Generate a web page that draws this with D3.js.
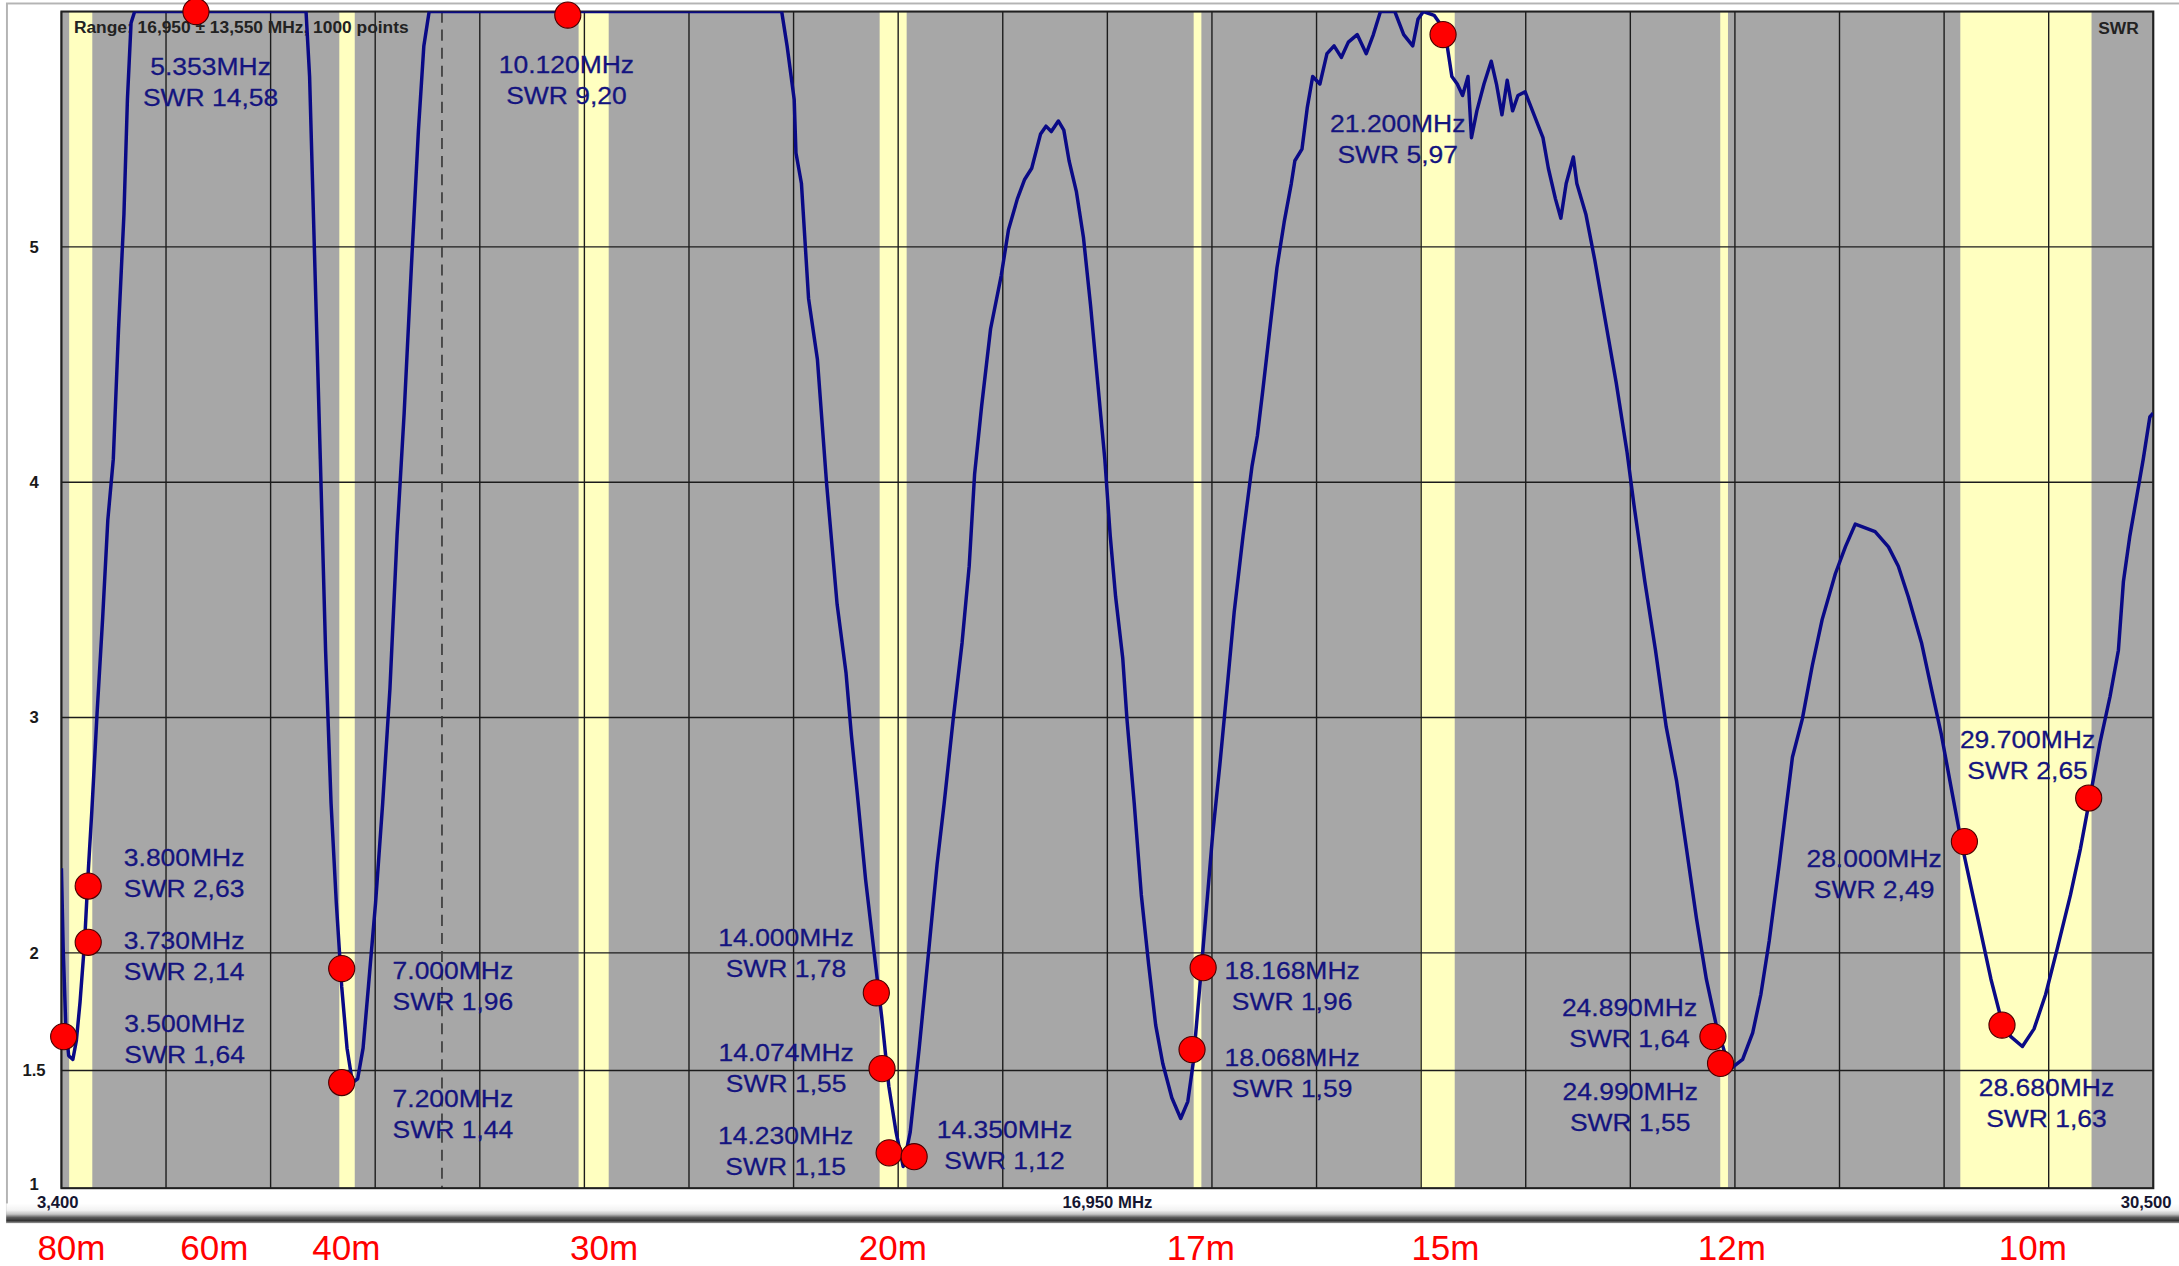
<!DOCTYPE html>
<html>
<head>
<meta charset="utf-8">
<script src="https://cdn.jsdelivr.net/npm/d3@7"></script>
<style>
  body { margin: 0; background: #ffffff; }
  svg { display: block; }
</style>
</head>
<body>
<div id="svganchor"></div>
<script>
/*
------------------------------
DATA: SWR sweep 3,400 - 30,500 MHz
------------------------------
*/
// [MHz, SWR] pairs, SWR above 6 is off the top of the screen
let swrTrace = [
  [3.400, 2.359], [3.423, 2.018], [3.456, 1.693], [3.494, 1.563], [3.548, 1.547], [3.594, 1.628],
  [3.641, 1.790], [3.701, 2.050], [3.747, 2.343], [3.794, 2.603], [3.863, 3.025], [3.933, 3.416],
  [4.001, 3.839], [4.072, 4.098], [4.140, 4.651], [4.210, 5.139], [4.255, 5.626], [4.302, 5.951],
  [4.349, 6.0], [6.569, 6.0],
  [6.615, 5.724], [6.684, 4.911], [6.754, 4.098], [6.822, 3.286], [6.893, 2.636], [6.961, 2.213],
  [7.031, 1.856], [7.100, 1.595], [7.170, 1.449], [7.238, 1.465], [7.308, 1.595], [7.377, 1.856],
  [7.470, 2.213], [7.562, 2.636], [7.656, 3.123], [7.748, 3.773], [7.840, 4.293], [7.933, 4.911],
  [8.025, 5.496], [8.095, 5.854], [8.164, 6.0], [12.731, 6.0],
  [12.801, 5.854], [12.893, 5.626], [12.916, 5.399], [12.987, 5.269], [13.079, 4.781], [13.194, 4.521],
  [13.311, 4.001], [13.449, 3.481], [13.565, 3.188], [13.633, 2.928], [13.703, 2.701], [13.818, 2.311],
  [13.934, 1.986], [14.027, 1.726], [14.119, 1.433], [14.213, 1.238], [14.305, 1.092], [14.396, 1.238],
  [14.513, 1.596], [14.629, 1.986], [14.744, 2.376], [14.836, 2.636], [14.953, 2.993], [15.068, 3.318],
  [15.160, 3.643], [15.230, 4.033], [15.322, 4.326], [15.437, 4.651], [15.575, 4.878], [15.669, 5.073],
  [15.784, 5.204], [15.876, 5.285], [15.970, 5.334], [16.085, 5.480], [16.155, 5.513], [16.224, 5.490],
  [16.315, 5.535], [16.386, 5.496], [16.454, 5.366], [16.548, 5.236], [16.640, 5.041], [16.733, 4.749],
  [16.825, 4.423], [16.917, 4.098], [16.987, 3.773], [17.057, 3.513], [17.149, 3.253], [17.204, 2.993],
  [17.298, 2.636], [17.390, 2.246], [17.484, 1.953], [17.576, 1.693], [17.668, 1.530], [17.785, 1.384],
  [17.900, 1.296], [17.992, 1.368], [18.061, 1.530], [18.130, 1.790], [18.223, 2.148], [18.315, 2.506],
  [18.407, 2.798], [18.501, 3.123], [18.593, 3.448], [18.708, 3.773], [18.823, 4.066], [18.893, 4.196],
  [18.964, 4.391], [19.055, 4.651], [19.147, 4.911], [19.241, 5.106], [19.333, 5.269], [19.379, 5.366],
  [19.471, 5.415], [19.541, 5.594], [19.610, 5.724], [19.703, 5.692], [19.795, 5.821], [19.887, 5.854],
  [19.981, 5.805], [20.072, 5.870], [20.187, 5.902], [20.304, 5.821], [20.396, 5.902], [20.488, 6.0],
  [20.674, 6.0], [20.789, 5.902], [20.906, 5.854], [20.974, 5.967], [21.044, 6.0], [21.183, 5.984],
  [21.322, 5.919], [21.413, 5.724], [21.483, 5.692], [21.552, 5.643], [21.622, 5.724], [21.667, 5.464],
  [21.737, 5.578], [21.829, 5.692], [21.923, 5.789], [21.991, 5.692], [22.062, 5.561], [22.130, 5.708],
  [22.200, 5.578], [22.269, 5.643], [22.362, 5.659], [22.478, 5.561], [22.593, 5.464], [22.663, 5.334],
  [22.755, 5.204], [22.825, 5.122], [22.894, 5.269], [22.987, 5.382], [23.032, 5.269], [23.149, 5.139],
  [23.265, 4.943], [23.403, 4.684], [23.542, 4.423], [23.681, 4.131], [23.772, 3.904], [23.913, 3.578],
  [24.051, 3.286], [24.190, 2.960], [24.323, 2.733], [24.453, 2.441], [24.581, 2.148], [24.710, 1.888],
  [24.838, 1.693], [24.946, 1.579], [25.052, 1.514], [25.180, 1.547], [25.310, 1.660], [25.416, 1.823],
  [25.524, 2.050], [25.654, 2.376], [25.738, 2.603], [25.825, 2.831], [25.953, 2.993], [26.082, 3.220],
  [26.210, 3.416], [26.381, 3.611], [26.511, 3.725], [26.639, 3.822], [26.768, 3.806], [26.896, 3.790],
  [27.069, 3.725], [27.197, 3.643], [27.326, 3.513], [27.497, 3.318], [27.625, 3.123], [27.754, 2.928],
  [27.882, 2.701], [28.012, 2.473], [28.140, 2.278], [28.269, 2.083], [28.397, 1.888], [28.525, 1.725],
  [28.654, 1.644], [28.804, 1.602], [28.955, 1.677], [29.105, 1.823], [29.256, 2.018], [29.427, 2.246],
  [29.555, 2.441], [29.684, 2.668], [29.812, 2.896], [29.940, 3.090], [30.048, 3.286], [30.113, 3.578],
  [30.197, 3.773], [30.284, 3.936], [30.370, 4.098], [30.455, 4.277], [30.498, 4.293]
];

// markers: text as written on the screen and where the dot sits
let markerFreqText = ["3.500MHz", "3.730MHz", "3.800MHz", "5.353MHz", "7.000MHz", "7.200MHz", "10.120MHz",
  "14.000MHz", "14.074MHz", "14.230MHz", "14.350MHz", "18.068MHz", "18.168MHz", "21.200MHz",
  "24.890MHz", "24.990MHz", "28.000MHz", "28.680MHz", "29.700MHz"];
let markerSwrText = ["SWR 1,64", "SWR 2,14", "SWR 2,63", "SWR 14,58", "SWR 1,96", "SWR 1,44", "SWR 9,20",
  "SWR 1,78", "SWR 1,55", "SWR 1,15", "SWR 1,12", "SWR 1,59", "SWR 1,96", "SWR 5,97",
  "SWR 1,64", "SWR 1,55", "SWR 2,49", "SWR 1,63", "SWR 2,65"];
let dotMHz = [3.429, 3.747, 3.747, 5.143, 7.031, 7.031, 9.960, 13.957, 14.031, 14.123, 14.447,
  18.047, 18.191, 21.299, 24.795, 24.894, 28.053, 28.540, 29.663];
let dotSwr = [1.644, 2.045, 2.284, 6.0, 1.933, 1.449, 5.985, 1.830, 1.508, 1.150, 1.134,
  1.589, 1.937, 5.902, 1.644, 1.530, 2.473, 1.693, 2.658];

// ham bands shown in yellow
let hamBandStart = [3.5, 7.0, 10.1, 14.0, 18.068, 21.0, 24.89, 28.0];
let hamBandEnd = [3.8, 7.2, 10.49, 14.35, 18.168, 21.45, 24.99, 29.7];

// band names under the chart
let bandNames = ["80m", "60m", "40m", "30m", "20m", "17m", "15m", "12m", "10m"];
let bandLabelMHz = [3.53, 5.38, 7.09, 10.43, 14.17, 18.16, 21.33, 25.04, 28.94];

// axes
let yTicks = [1, 1.5, 2, 3, 4, 5];
let yTickLabels = ["1", "1.5", "2", "3", "4", "5"];
let xTickMHz = [3.4, 16.95, 30.5];
let xTickLabels = ["3,400", "16,950 MHz", "30,500"];
let cursorMHz = 8.33;

/*
------------------------------
METHOD: canvas and layout
------------------------------
*/
let width = 1568;
let height = 911;
let plot = ({left: 44.2, right: 1549.5, top: 8.3, bottom: 855});
let navy = "#14147f";
let font = "'Liberation Sans', Arial, sans-serif";

// label placement relative to its dot: [dx to text centre, dy to first baseline]
let labelOffset = [[87, -3], [69, 4.6], [69, -14.5], [10.5, 46], [80, 7.6], [80, 17.6], [-1, 41.5],
  [-65, -33.6], [-69, -5.5], [-74.5, -6.6], [65, -13.7], [72, 11.5], [64, 8.2], [-32.6, 70],
  [-60, -15], [-65, 26], [-65, 18], [32, 51], [-44, -36]];

let svg = d3.select("#svganchor")
    .append("svg")
    .attr("width", 2179)
    .attr("height", 1266)
    .attr("viewBox", "0 0 " + width + " " + height);

let defs = svg.append("defs");

defs.append("clipPath")
    .attr("id", "plotclip")
    .append("rect")
    .attr("x", plot.left)
    .attr("y", plot.top)
    .attr("width", plot.right - plot.left)
    .attr("height", plot.bottom - plot.top);

let grad = defs.append("linearGradient")
    .attr("id", "barshade")
    .attr("x1", 0).attr("y1", 0).attr("x2", 0).attr("y2", 1);
[["0%", "#ffffff"], ["35%", "#f2f2f2"], ["55%", "#c4c4c4"], ["72%", "#5c5c5c"],
 ["88%", "#333333"], ["100%", "#8a8a8a"]].forEach(function(s) {
    grad.append("stop").attr("offset", s[0]).attr("stop-color", s[1]);
});

let xScale = d3.scaleLinear()
    .domain([3.4, 30.5])
    .range([plot.left, plot.right]);

let yScale = d3.scaleLinear()
    .domain([1, 6])
    .range([plot.bottom, plot.top]);

/*
------------------------------
METHOD: screen frame
------------------------------
*/
svg.append("rect")
    .attr("x", 5).attr("y", 2.5)
    .attr("width", width - 4).attr("height", 877)
    .attr("fill", "#ffffff")
    .attr("stroke", "#b4b4b4")
    .attr("stroke-width", 1.4);

svg.append("rect")
    .attr("x", 4.5).attr("y", 866)
    .attr("width", width - 4.5).attr("height", 14)
    .attr("fill", "url(#barshade)");

/*
------------------------------
METHOD: plot background, bands and grid
------------------------------
*/
svg.append("rect")
    .attr("x", plot.left).attr("y", plot.top)
    .attr("width", plot.right - plot.left)
    .attr("height", plot.bottom - plot.top)
    .attr("fill", "#a7a7a7");

svg.append("g").selectAll("rect")
    .data(hamBandStart)
    .enter().append("rect")
    .attr("x", function(d) { return xScale(d); })
    .attr("y", plot.top)
    .attr("width", function(d, i) { return xScale(hamBandEnd[i]) - xScale(d); })
    .attr("height", plot.bottom - plot.top)
    .attr("fill", "#ffffc0");

// 20 divisions across the span
let xGrid = d3.range(21).map(function(i) { return 3.4 + i * (30.5 - 3.4) / 20; });

svg.append("g").selectAll("line")
    .data(xGrid)
    .enter().append("line")
    .attr("x1", function(d) { return xScale(d); })
    .attr("x2", function(d) { return xScale(d); })
    .attr("y1", plot.top)
    .attr("y2", plot.bottom)
    .attr("stroke", "#1c1c1c")
    .attr("stroke-width", 1);

svg.append("g").selectAll("line")
    .data(yTicks.filter(function(d) { return d > 1; }))
    .enter().append("line")
    .attr("x1", plot.left)
    .attr("x2", plot.right)
    .attr("y1", function(d) { return yScale(d); })
    .attr("y2", function(d) { return yScale(d); })
    .attr("stroke", "#1c1c1c")
    .attr("stroke-width", 1);

svg.append("line")
    .attr("x1", xScale(cursorMHz)).attr("x2", xScale(cursorMHz))
    .attr("y1", plot.top).attr("y2", plot.bottom)
    .attr("stroke", "#3a3a3a")
    .attr("stroke-width", 1.2)
    .attr("stroke-dasharray", "8,5");

svg.append("rect")
    .attr("x", plot.left).attr("y", plot.top)
    .attr("width", plot.right - plot.left)
    .attr("height", plot.bottom - plot.top)
    .attr("fill", "none")
    .attr("stroke", "#202020")
    .attr("stroke-width", 1.5);

/*
------------------------------
METHOD: axis texts
------------------------------
*/
svg.append("g").selectAll("text")
    .data(yTicks)
    .enter().append("text")
    .attr("x", 24.5)
    .attr("y", function(d) { return Math.min(yScale(d), plot.bottom - 3); })
    .attr("dy", "0.35em")
    .attr("text-anchor", "middle")
    .attr("font-family", font)
    .attr("font-weight", "bold")
    .attr("font-size", 12)
    .attr("fill", "#1a1a1a")
    .text(function(d, i) { return yTickLabels[i]; });

svg.append("g").selectAll("text")
    .data(xTickMHz)
    .enter().append("text")
    .attr("x", function(d, i) {
        if (i === 0) return xScale(d) - 17.6;
        if (i === xTickMHz.length - 1) return xScale(d) + 13.2;
        return xScale(d);
    })
    .attr("y", 869)
    .attr("text-anchor", function(d, i) {
        return i === 0 ? "start" : (i === xTickMHz.length - 1 ? "end" : "middle");
    })
    .attr("font-family", font)
    .attr("font-weight", "bold")
    .attr("font-size", 12)
    .attr("fill", "#151530")
    .text(function(d, i) { return xTickLabels[i]; });

svg.append("text")
    .attr("x", plot.left + 9)
    .attr("y", 24)
    .attr("font-family", font)
    .attr("font-weight", "bold")
    .attr("font-size", 12.5)
    .attr("fill", "#222222")
    .text("Range: 16,950 \u00b1 13,550 MHz, 1000 points");

svg.append("text")
    .attr("x", plot.right - 10.5)
    .attr("y", 24.5)
    .attr("text-anchor", "end")
    .attr("font-family", font)
    .attr("font-weight", "bold")
    .attr("font-size", 12.5)
    .attr("fill", "#222222")
    .text("SWR");

/*
------------------------------
METHOD: the SWR trace
------------------------------
*/
let line = d3.line()
    .x(function(d) { return xScale(d[0]); })
    .y(function(d) { return yScale(Math.min(d[1], 6)); });

svg.append("path")
    .datum(swrTrace)
    .attr("clip-path", "url(#plotclip)")
    .attr("d", line)
    .attr("fill", "none")
    .attr("stroke", "#0a0a86")
    .attr("stroke-width", 2.5)
    .attr("stroke-linejoin", "round");

/*
------------------------------
METHOD: markers and their labels
------------------------------
*/
svg.append("g").selectAll("circle")
    .data(dotMHz)
    .enter().append("circle")
    .attr("cx", function(d) { return xScale(d); })
    .attr("cy", function(d, i) { return yScale(dotSwr[i]); })
    .attr("r", 9.4)
    .attr("fill", "#ff0000")
    .attr("stroke", "#4a0000")
    .attr("stroke-width", 0.8);

// the annotation font on the screenshot is a slightly widened Arial
let labels = svg.append("g").selectAll("text")
    .data(markerFreqText)
    .enter().append("text")
    .attr("transform", function(d, i) {
        let x = xScale(dotMHz[i]) + labelOffset[i][0];
        let y = yScale(dotSwr[i]) + labelOffset[i][1];
        return "translate(" + x + "," + y + ") scale(1.12,1)";
    })
    .attr("text-anchor", "middle")
    .attr("font-family", font)
    .attr("font-size", 17)
    .attr("fill", navy)
    .attr("stroke", navy)
    .attr("stroke-width", 0.2);

labels.append("tspan")
    .attr("x", 0)
    .text(function(d) { return d; });

labels.append("tspan")
    .attr("x", 0)
    .attr("dy", 22.3)
    .text(function(d, i) { return markerSwrText[i]; });

/*
------------------------------
METHOD: band names under the screen
------------------------------
*/
svg.append("g").selectAll("text")
    .data(bandNames)
    .enter().append("text")
    .attr("x", function(d, i) { return xScale(bandLabelMHz[i]); })
    .attr("y", 906.5)
    .attr("text-anchor", "middle")
    .attr("font-family", font)
    .attr("font-size", 25.2)
    .attr("fill", "#ff0000")
    .text(function(d) { return d; });
</script>
</body>
</html>
